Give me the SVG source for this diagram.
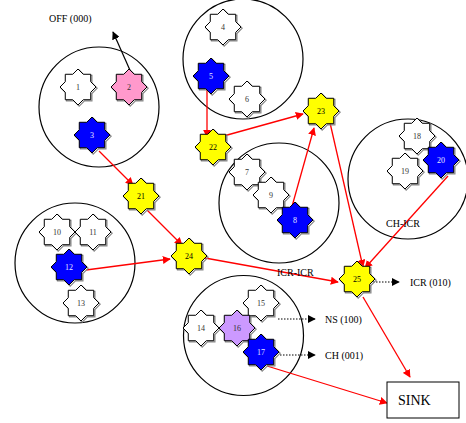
<svg xmlns="http://www.w3.org/2000/svg" width="466" height="423" viewBox="0 0 466 423">
  <style>
    .cluster { fill: none; stroke: #000; stroke-width: 1.2; }
    .shadow { fill: none; stroke: #888; stroke-width: 1.2; }
    .star { stroke: #000; stroke-width: 1; }
    .white { fill: #fff; }
    .blue { fill: #0000ff; }
    .yellow { fill: #ffff00; }
    .pink { fill: #ff99cc; }
    .lilac { fill: #cc99ff; }
    .num { font-family: "Liberation Serif", serif; font-size: 8px; text-anchor: middle; dominant-baseline: central; fill: #333; }
    .num.inv { fill: #e8e8ff; }
    .num.dark { fill: #000; }
    .lbl { font-family: "Liberation Serif", serif; font-size: 10px; fill: #000; }
    .red { stroke: #ff0000; stroke-width: 1.3; fill: none; marker-end: url(#redhead); }
    .blk { stroke: #000; stroke-width: 1.2; fill: none; marker-end: url(#blkhead); }
    .dot { stroke: #000; stroke-width: 1; stroke-dasharray: 1.5 1.5; fill: none; marker-end: url(#blkhead); }
  </style>
  <defs>
    <path id="star8" d="M18,0 L12.73,5.27 L12.73,12.73 L5.27,12.73 L0,18 L-5.27,12.73 L-12.73,12.73 L-12.73,5.27 L-18,0 L-12.73,-5.27 L-12.73,-12.73 L-5.27,-12.73 L0,-18 L5.27,-12.73 L12.73,-12.73 L12.73,-5.27 Z"/>
    <marker id="redhead" viewBox="0 0 10 10" refX="9" refY="5" markerWidth="8" markerHeight="8" markerUnits="userSpaceOnUse" orient="auto">
      <path d="M0,0 L10,5 L0,10 Z" fill="#ff0000"/>
    </marker>
    <marker id="blkhead" viewBox="0 0 10 10" refX="9" refY="5" markerWidth="8" markerHeight="8" markerUnits="userSpaceOnUse" orient="auto">
      <path d="M0,0 L10,5 L0,10 Z" fill="#000"/>
    </marker>
  </defs>

  <rect width="466" height="423" fill="#fff"/>

  <!-- cluster boundaries -->
  <g id="clusters">
    <circle id="cluster-a" class="cluster" cx="99" cy="107" r="60"/>
    <circle id="cluster-b" class="cluster" cx="243" cy="59" r="60"/>
    <circle id="cluster-c" class="cluster" cx="408" cy="179" r="60"/>
    <circle id="cluster-d" class="cluster" cx="279" cy="203" r="60"/>
    <circle id="cluster-e" class="cluster" cx="75" cy="263" r="60"/>
    <circle id="cluster-f" class="cluster" cx="243.5" cy="335.5" r="60"/>
  </g>

  <!-- links between sensor nodes -->
  <g id="connectors">
    <line class="blk" x1="133" y1="77" x2="113" y2="32"/>
    <line class="red" x1="99" y1="151" x2="133" y2="185"/>
    <line class="red" x1="207" y1="90" x2="207" y2="137"/>
    <line class="red" x1="220" y1="137" x2="303" y2="114"/>
    <line class="red" x1="291" y1="210" x2="314" y2="128"/>
    <line class="red" x1="328" y1="114" x2="363" y2="267"/>
    <line class="red" x1="448" y1="176" x2="365" y2="268"/>
    <line class="red" x1="147" y1="210" x2="182" y2="245"/>
    <line class="red" x1="86" y1="270" x2="170" y2="259"/>
    <line class="red" x1="205" y1="258" x2="338" y2="282"/>
    <line class="red" x1="363" y1="297" x2="410" y2="377"/>
    <line class="red" x1="267" y1="366" x2="387" y2="403"/>
    <line class="dot" x1="373" y1="282" x2="399" y2="282"/>
    <line class="dot" x1="278" y1="319" x2="315" y2="319"/>
    <line class="dot" x1="280" y1="355" x2="315" y2="355"/>
  </g>

  <!-- sensor nodes -->
  <g id="n1" transform="translate(78,87)"><use href="#star8" class="shadow" x="1.2" y="1.2"/><use href="#star8" class="star white"/><text class="num">1</text></g>
  <g id="n2" transform="translate(129,87)"><use href="#star8" class="shadow" x="1.2" y="1.2"/><use href="#star8" class="star pink"/><text class="num">2</text></g>
  <g id="n3" transform="translate(92,135)"><use href="#star8" class="shadow" x="1.2" y="1.2"/><use href="#star8" class="star blue"/><text class="num inv">3</text></g>
  <g id="n4" transform="translate(223,27)"><use href="#star8" class="shadow" x="1.2" y="1.2"/><use href="#star8" class="star white"/><text class="num">4</text></g>
  <g id="n5" transform="translate(211,76)"><use href="#star8" class="shadow" x="1.2" y="1.2"/><use href="#star8" class="star blue"/><text class="num inv">5</text></g>
  <g id="n6" transform="translate(247,99)"><use href="#star8" class="shadow" x="1.2" y="1.2"/><use href="#star8" class="star white"/><text class="num">6</text></g>
  <g id="n7" transform="translate(247,172)"><use href="#star8" class="shadow" x="1.2" y="1.2"/><use href="#star8" class="star white"/><text class="num">7</text></g>
  <g id="n9" transform="translate(271,195)"><use href="#star8" class="shadow" x="1.2" y="1.2"/><use href="#star8" class="star white"/><text class="num">9</text></g>
  <g id="n8" transform="translate(295,220)"><use href="#star8" class="shadow" x="1.2" y="1.2"/><use href="#star8" class="star blue"/><text class="num inv">8</text></g>
  <g id="n10" transform="translate(57,232)"><use href="#star8" class="shadow" x="1.2" y="1.2"/><use href="#star8" class="star white"/><text class="num">10</text></g>
  <g id="n11" transform="translate(93,232)"><use href="#star8" class="shadow" x="1.2" y="1.2"/><use href="#star8" class="star white"/><text class="num">11</text></g>
  <g id="n12" transform="translate(69,267)"><use href="#star8" class="shadow" x="1.2" y="1.2"/><use href="#star8" class="star blue"/><text class="num inv">12</text></g>
  <g id="n13" transform="translate(81,303)"><use href="#star8" class="shadow" x="1.2" y="1.2"/><use href="#star8" class="star white"/><text class="num">13</text></g>
  <g id="n14" transform="translate(201,328)"><use href="#star8" class="shadow" x="1.2" y="1.2"/><use href="#star8" class="star white"/><text class="num">14</text></g>
  <g id="n15" transform="translate(261,303)"><use href="#star8" class="shadow" x="1.2" y="1.2"/><use href="#star8" class="star white"/><text class="num">15</text></g>
  <g id="n16" transform="translate(237,328)"><use href="#star8" class="shadow" x="1.2" y="1.2"/><use href="#star8" class="star lilac"/><text class="num">16</text></g>
  <g id="n17" transform="translate(261,352)"><use href="#star8" class="shadow" x="1.2" y="1.2"/><use href="#star8" class="star blue"/><text class="num inv">17</text></g>
  <g id="n18" transform="translate(417,136)"><use href="#star8" class="shadow" x="1.2" y="1.2"/><use href="#star8" class="star white"/><text class="num">18</text></g>
  <g id="n19" transform="translate(405,171)"><use href="#star8" class="shadow" x="1.2" y="1.2"/><use href="#star8" class="star white"/><text class="num">19</text></g>
  <g id="n20" transform="translate(441,160)"><use href="#star8" class="shadow" x="1.2" y="1.2"/><use href="#star8" class="star blue"/><text class="num inv">20</text></g>
  <g id="n21" transform="translate(141,196)"><use href="#star8" class="shadow" x="1.2" y="1.2"/><use href="#star8" class="star yellow"/><text class="num dark">21</text></g>
  <g id="n22" transform="translate(213,147)"><use href="#star8" class="shadow" x="1.2" y="1.2"/><use href="#star8" class="star yellow"/><text class="num dark">22</text></g>
  <g id="n23" transform="translate(321,111)"><use href="#star8" class="shadow" x="1.2" y="1.2"/><use href="#star8" class="star yellow"/><text class="num dark">23</text></g>
  <g id="n24" transform="translate(189,256)"><use href="#star8" class="shadow" x="1.2" y="1.2"/><use href="#star8" class="star yellow"/><text class="num dark">24</text></g>
  <g id="n25" transform="translate(357,279)"><use href="#star8" class="shadow" x="1.2" y="1.2"/><use href="#star8" class="star yellow"/><text class="num dark">25</text></g>

  <!-- sink -->
  <g id="sink">
    <rect x="387" y="382" width="72" height="36" fill="#fff" stroke="#000" stroke-width="1"/>
    <text x="398" y="405" font-family="Liberation Serif, serif" font-size="14">SINK</text>
  </g>

  <!-- state labels -->
  <g id="labels">
    <text class="lbl" x="49" y="22">OFF (000)</text>
    <text class="lbl" x="386" y="227">CH-ICR</text>
    <text class="lbl" x="277" y="276">ICR-ICR</text>
    <text class="lbl" x="410" y="286">ICR (010)</text>
    <text class="lbl" x="325" y="323">NS (100)</text>
    <text class="lbl" x="325" y="359">CH (001)</text>
  </g>
</svg>
